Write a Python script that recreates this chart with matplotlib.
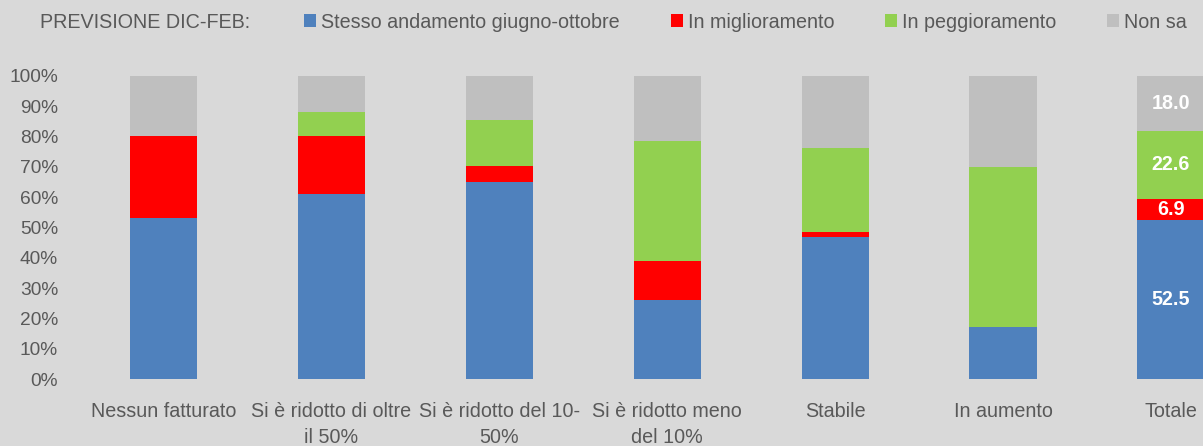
import matplotlib
matplotlib.use("Agg")
import matplotlib.pyplot as plt
import numpy as np

plt.rcParams['font.family'] = ['Liberation Sans', 'DejaVu Sans']
FS = 14.2

categories = ["Nessun fatturato", "Si è ridotto di oltre\nil 50%", "Si è ridotto del 10-\n50%",
              "Si è ridotto meno\ndel 10%", "Stabile", "In aumento", "Totale"]
series_names = ["Stesso andamento giugno-ottobre", "In miglioramento", "In peggioramento", "Non sa"]
stesso = [53.3, 61.2, 64.9, 26.2, 46.9, 17.1, 52.5]
miglior = [26.9, 19.0, 5.4, 12.7, 1.7, 0.0, 6.9]
peggior = [0.0, 7.9, 15.2, 39.7, 27.7, 52.8, 22.6]
non_sa = [19.8, 11.9, 14.5, 21.4, 23.7, 30.1, 18.0]
yticks = [0, 10, 20, 30, 40, 50, 60, 70, 80, 90, 100]
legend_title = "PREVISIONE DIC-FEB:"

colors = ["#4f81bd", "#ff0000", "#92d050", "#bfbfbf"]
bg = "#d9d9d9"
txt = "#595959"

W, H = 1203, 446
fig = plt.figure(figsize=(W / 100, H / 100), dpi=100, facecolor=bg)
left = 79.55 / W
width = (1254.9 - 79.55) / W
bottom = (H - 379.3) / H
height = (379.3 - 76) / H
ax = fig.add_axes([left, bottom, width, height], facecolor=bg)

x = np.arange(len(categories))
data = [stesso, miglior, peggior, non_sa]
base = np.zeros(len(categories))
handles = []
for vals, c, name in zip(data, colors, series_names):
    vals = np.array(vals)
    b = ax.bar(x, vals, 0.4, bottom=base, color=c, label=name, edgecolor='none')
    handles.append(b)
    i = len(categories) - 1
    if vals[i] > 0:
        ax.text(x[i], base[i] + vals[i] / 2, f"{vals[i]:.1f}", ha='center', va='center',
                color='white', fontsize=FS, fontweight='bold')
    base = base + vals

ax.set_xlim(-0.5, len(categories) - 0.5)
ax.set_ylim(0, 100)
ax.set_yticks(yticks)
ax.set_yticklabels([f"{v}%" for v in yticks], color=txt, fontsize=13.8)
ax.set_xticks(x)
ax.set_xticklabels(categories, color=txt, fontsize=FS, linespacing=1.42)
ax.tick_params(axis='y', length=0, pad=15.5)
ax.tick_params(axis='x', length=0, pad=16.5)
for s in ax.spines.values():
    s.set_visible(False)

px = FS * 100 / 72
fig.text(40 / W, 1 - 22 / H, legend_title, ha='left', va='center', color=txt, fontsize=FS)
fig.legend(handles=handles, labels=series_names, loc='center left',
           bbox_to_anchor=(304 / W, 1 - 22 / H), ncol=4, frameon=False,
           borderaxespad=0, borderpad=0, handlelength=12 / px, handleheight=12 / px,
           handletextpad=5 / px, columnspacing=51 / px,
           fontsize=FS, labelcolor=txt)

fig.savefig("out.png", dpi=100, facecolor=bg)
